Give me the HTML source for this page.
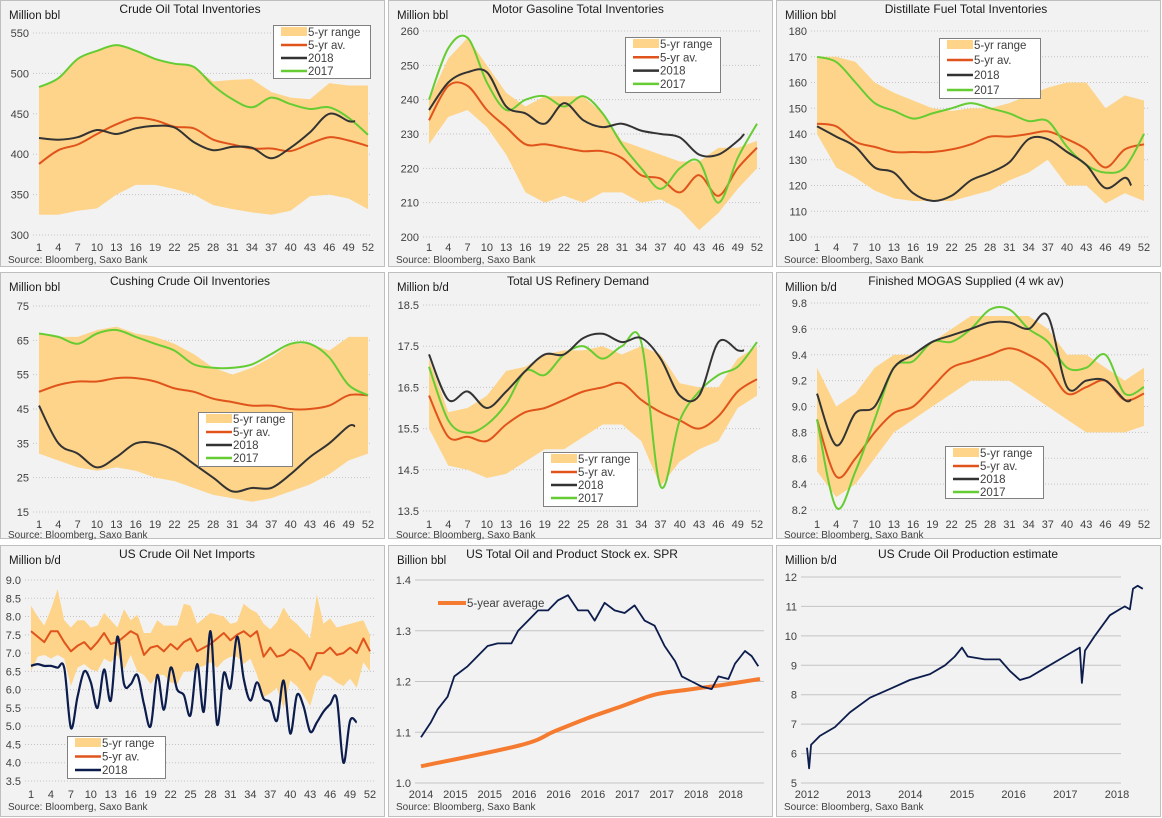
<!DOCTYPE html>
<html><head><meta charset="utf-8"><style>
html,body{margin:0;padding:0;background:#fff;}
svg{display:block;font-family:"Liberation Sans",sans-serif;}
</style></head><body>
<svg id="c" width="1162" height="818" viewBox="0 0 1162 818" xmlns="http://www.w3.org/2000/svg"></svg>
<script>
// ---------- DATA ----------
const weeks18=[1,4,7,10,13,16,19,22,25,28,31,34,37,40,43,46,49,52];
const weeks17=[1,4,7,10,13,16,19,22,25,28,31,34,37,40,43,46,49,50];
const wkLabels=["1","4","7","10","13","16","19","22","25","28","31","34","37","40","43","46","49","52"];

const crudeHi=[483,494,518,528,535,528,518,512,508,490,492,493,477,470,468,488,485,485];
const crudeLo=[325,325,330,333,350,362,362,357,350,337,332,328,325,330,348,350,345,332];
const crudeAvg=[388,405,412,425,437,445,442,434,432,418,412,407,407,404,413,421,417,410];
const crude2018=[420,418,421,430,425,432,435,433,415,405,409,408,395,408,427,450,441,441];
const crude2017=[483,494,518,528,535,528,518,512,508,485,468,458,470,462,456,458,445,424];

const gasHi=[240,252,258,250,242,238,241,241,241,236,228,226,224,222,222,226,226,228];
const gasLo=[227,235,237,232,224,213,210,212,210,213,213,210,211,208,202,207,214,220];
const gasAvg=[234,244,244,237,232,227,227,226,225,225,223,218,217,213,218,212,220,226];
const gas2018=[237,245,248,248,238,236,233,239,234,232,233,231,230,229,224,224,228,230];
const gas2017=[240,255,258,245,237,240,241,238,241,236,227,220,214,220,222,210,223,233];

const distHi=[170,170,168,160,156,153,150,149,150,150,152,155,158,160,160,150,155,153];
const distLo=[140,127,123,118,115,114,114,114,116,118,122,125,130,120,120,113,117,114];
const distAvg=[144,143,137,135,133,133,133,134,136,139,139,140,141,138,134,127,134,136];
const dist2018=[143,139,135,127,125,117,114,116,122,125,129,138,138,133,128,119,123,120];
const dist2017=[170,168,160,152,149,146,148,150,152,150,148,145,145,135,128,125,127,140];

const cushHi=[67,66,66,68,69,67,66,64,61,57,55,57,60,64,64,62,66,66];
const cushLo=[32,30,28,27,28,27,25,24,22,20,19,18,19,21,23,26,30,32];
const cushAvg=[50,52,53,53,54,54,53,51,50,48,47,46,46,45,45,46,49,49];
const cush2018=[46,35,32,28,31,35,35,33,29,25,21,22,22,26,31,35,40,40];
const cush2017=[67,66,64,67,68,66,64,62,58,57,57,58,61,64,64,60,52,49];

const refHi=[17.2,15.9,16.0,16.3,16.9,17.0,17.3,17.4,17.4,17.5,17.3,17.5,17.3,16.6,16.5,16.5,17.2,17.5];
const refLo=[15.5,14.6,14.5,14.3,14.4,14.7,15.0,15.0,15.3,15.6,15.6,15.2,14.1,14.7,15.0,15.2,16.0,16.3];
const refAvg=[16.3,15.3,15.3,15.2,15.6,15.9,16.0,16.2,16.4,16.5,16.6,16.2,15.9,15.7,15.5,15.8,16.4,16.7];
const ref2018=[17.3,16.2,16.4,16.0,16.4,16.9,17.3,17.3,17.7,17.8,17.6,17.7,17.2,16.3,16.3,17.6,17.4,17.4];
const ref2017=[17.0,15.7,15.4,15.6,16.1,16.9,16.8,17.3,17.5,17.2,17.5,17.6,14.1,15.7,16.4,16.8,17.0,17.6];

const mogHi=[9.3,9.0,9.1,9.3,9.4,9.4,9.5,9.6,9.7,9.7,9.7,9.7,9.6,9.4,9.4,9.3,9.2,9.3];
const mogLo=[8.5,8.3,8.4,8.6,8.8,8.9,9.0,9.1,9.2,9.2,9.2,9.1,9.0,8.9,8.8,8.8,8.8,8.85];
const mogAvg=[8.9,8.46,8.6,8.8,8.95,9.0,9.15,9.3,9.35,9.4,9.45,9.4,9.3,9.1,9.15,9.2,9.05,9.1];
const mog2018=[9.1,8.7,8.95,9.0,9.3,9.4,9.5,9.55,9.6,9.65,9.65,9.6,9.7,9.15,9.2,9.2,9.05,9.05];
const mog2017=[8.9,8.22,8.5,8.9,9.3,9.35,9.5,9.5,9.6,9.75,9.75,9.6,9.5,9.3,9.3,9.4,9.1,9.15];

const impWeeks=[1,2,3,4,5,6,7,8,9,10,11,12,13,14,15,16,17,18,19,20,21,22,23,24,25,26,27,28,29,30,31,32,33,34,35,36,37,38,39,40,41,42,43,44,45,46,47,48,49,50,51,52];
const impHi=[8.3,8.0,7.75,8.2,8.75,7.9,7.7,7.9,7.9,7.7,7.75,8.1,7.9,7.7,8.2,7.9,8.05,7.55,7.55,7.9,7.75,7.75,7.75,8.35,8.3,7.8,7.95,8.1,8.05,8.0,7.8,7.85,8.35,8.2,8.1,7.8,7.65,7.85,8.25,7.95,7.8,7.6,7.4,8.6,7.8,7.95,7.7,7.75,7.8,7.85,7.9,7.5];
const impLo=[6.5,6.9,6.95,6.85,6.95,6.85,6.1,6.6,6.7,6.55,6.5,6.85,6.75,6.95,6.55,6.95,6.5,6.4,6.15,6.4,6.4,6.2,6.15,6.5,6.5,6.6,6.65,6.75,6.6,6.8,6.9,6.9,6.7,6.85,6.4,5.8,5.9,6.05,5.5,6.25,6.1,5.85,5.55,6.2,6.4,6.35,6.2,6.1,6.3,6.05,6.75,6.5];
const impAvg=[7.6,7.45,7.3,7.6,7.6,7.3,7.05,7.2,7.3,7.1,7.3,7.55,7.25,7.3,7.45,7.6,7.5,6.95,7.15,7.2,7.05,7.25,7.1,7.3,7.4,7.05,7.15,7.25,7.4,7.55,7.35,7.5,7.6,7.45,7.6,6.9,7.15,6.9,6.95,7.1,7.0,6.85,6.55,7.0,7.0,7.15,6.95,7.0,7.15,7.0,7.4,7.05];
const imp2018Weeks=[1,2,3,4,5,6,7,8,9,10,11,12,13,14,15,16,17,18,19,20,21,22,23,24,25,26,27,28,29,30,31,32,33,34,35,36,37,38,39,40,41,42,43,44,45,46,47,48,49,50];
const imp2018=[6.65,6.7,6.65,6.65,6.6,6.6,4.95,5.8,6.5,6.2,5.5,6.55,5.7,7.45,6.15,6.15,6.4,5.6,5.0,6.4,5.45,6.6,6.0,5.85,5.3,6.7,5.4,7.6,5.05,6.45,6.05,7.45,6.3,5.7,6.2,5.75,5.65,5.15,6.25,4.8,5.85,5.55,4.85,5.1,5.4,5.6,5.75,4.0,5.15,5.1];

const stockTickLabels=["2014","2015","2015","2016","2016","2016","2017","2017","2018","2018"];
const stockMonths=[0,1.8,3.0,4.8,6.0,8.4,10.2,12.0,13.8,16.3,17.5,19.3,21.1,22.9,24.7,26.5,28.3,30.1,31.3,33.1,34.9,36.7,38.5,40.3,42.1,43.9,45.8,47.0,48.8,50.6,52.4,53.6,55.4,56.6,58.4,59.6,60.8];
const stockVals=[1.09,1.12,1.145,1.17,1.21,1.23,1.25,1.27,1.275,1.275,1.30,1.32,1.34,1.34,1.36,1.37,1.34,1.34,1.32,1.355,1.34,1.335,1.35,1.32,1.31,1.27,1.24,1.21,1.20,1.19,1.185,1.21,1.205,1.235,1.26,1.25,1.23];
const avgMonths=[0,18.1,24.1,30.1,36.1,42.1,48.2,54.2,61.1];
const avgVals=[1.033,1.075,1.102,1.128,1.151,1.174,1.184,1.193,1.205];

const prodYears=[2012.0,2012.04,2012.08,2012.25,2012.54,2012.83,2013.22,2013.61,2013.99,2014.38,2014.67,2014.86,2015.0,2015.11,2015.44,2015.73,2015.93,2016.12,2016.31,2016.6,2016.89,2017.18,2017.28,2017.32,2017.38,2017.57,2017.86,2018.05,2018.15,2018.25,2018.31,2018.4,2018.5];
const prodVals=[6.2,5.5,6.3,6.6,6.9,7.4,7.9,8.2,8.5,8.7,9.0,9.3,9.6,9.3,9.2,9.2,8.8,8.5,8.6,8.9,9.2,9.5,9.6,8.4,9.5,10.0,10.7,10.9,11.0,10.9,11.6,11.7,11.6];
const prodTickLabels=["2012","2013","2014","2015","2016","2017","2018"];

// ---------- DRAWING ----------
const svg=document.getElementById('c');
const NS="http://www.w3.org/2000/svg";
function el(tag,attrs,parent){const e=document.createElementNS(NS,tag);for(const k in attrs)e.setAttribute(k,attrs[k]);(parent||svg).appendChild(e);return e;}
function txt(x,y,s,attrs,parent){const t=el('text',Object.assign({x:x,y:y,'font-size':11,fill:'#404040'},attrs||{}),parent);t.textContent=s;return t;}
function smooth(pts){if(pts.length<2)return'';let d='M'+pts[0][0].toFixed(1)+','+pts[0][1].toFixed(1);
 for(let i=0;i<pts.length-1;i++){const p0=pts[i-1]||pts[i],p1=pts[i],p2=pts[i+1],p3=pts[i+2]||p2;
 const c1=[p1[0]+(p2[0]-p0[0])/6,p1[1]+(p2[1]-p0[1])/6],c2=[p2[0]-(p3[0]-p1[0])/6,p2[1]-(p3[1]-p1[1])/6];
 d+='C'+c1[0].toFixed(1)+','+c1[1].toFixed(1)+' '+c2[0].toFixed(1)+','+c2[1].toFixed(1)+' '+p2[0].toFixed(1)+','+p2[1].toFixed(1);}return d;}
function linear(pts){return pts.map((p,i)=>(i?'L':'M')+p[0].toFixed(1)+','+p[1].toFixed(1)).join('');}

const BAND='#fdd48a',AVG='#e0541c',S18='#333333',S17='#66cc33',NAVY='#0c1c4c';

function panel(cfg){
 const g=el('g',{});
 
 
 const bg=el('rect',{x:cfg.px+0.5,y:cfg.py+0.5,width:cfg.pw,height:cfg.ph,fill:'#f2f2f2',stroke:'#bfbfbf'},g);
 
 
 const xs=v=>cfg.xL+(v-cfg.x0)/(cfg.x1-cfg.x0)*(cfg.xR-cfg.xL);
 const ys=v=>cfg.yB+(v-cfg.y0)/(cfg.y1-cfg.y0)*(cfg.yT-cfg.yB);
 // grid + y ticks
 for(const t of cfg.yTicks){const y=ys(t);
  const gl=el('line',{x1:cfg.xL-6,x2:cfg.xR+4,y1:y,y2:y,stroke:'#c4c4c4','stroke-width':1,'stroke-dasharray':cfg.solidGrid?'':'1,2'},g);
  
  
  const tl=txt(cfg.xL-10,y+4,cfg.yFmt(t),{'text-anchor':'end'},g);
  
  }
 cfg.xTicks.forEach((t,i)=>{const tl=txt(xs(t),cfg.xLabY,cfg.xLabels[i],{'text-anchor':'middle'},g);
  
  });
 const tt=txt(cfg.titleX,cfg.py+13,cfg.title,{'text-anchor':'middle','font-size':12,fill:'#1a1a1a'},g);
 
 
 const ut=txt(cfg.px+9,cfg.py+19,cfg.unit,{'font-size':11.5,fill:'#1a1a1a'},g);
 
 
 const sr=txt(cfg.px+8,cfg.srcY,'Source: Bloomberg, Saxo Bank',{'font-size':10,fill:'#404040'},g);
 
 
 // band
 if(cfg.hi){const up=cfg.bx.map((x,i)=>[xs(x),ys(cfg.hi[i])]),dn=cfg.bx.map((x,i)=>[xs(x),ys(cfg.lo[i])]).reverse();
  const b=el('polygon',{points:up.concat(dn).map(p=>p.join(',')).join(' '),fill:BAND},g);
  
  }
 for(const s of cfg.series){const pts=s.x.map((x,i)=>[xs(x),ys(s.v[i])]);
  const p=el('path',{d:s.lin?linear(pts):smooth(pts),fill:'none',stroke:s.c,'stroke-width':s.w||2,'stroke-linejoin':'round'},g);
  
  }
 if(cfg.leg){const L=cfg.leg;
  const lb=el('rect',{x:L.x+0.5,y:L.y+0.5,width:L.w,height:L.h,fill:'#fff',stroke:'#808080'},g);
  
  
  L.items.forEach((it,i)=>{const y=L.y+7+i*L.dy;
   if(it.band){const r=el('rect',{x:L.x+8,y:y-5,width:26,height:9,fill:BAND},g);
    
    }
   else{const l=el('line',{x1:L.x+8,x2:L.x+34,y1:y,y2:y,stroke:it.c,'stroke-width':2.5},g);
    
    }
   const t=txt(L.x+35,y+4,it.t,{'font-size':11.5,fill:'#404040'},g);
   
   });}
 return {g,xs,ys};
}
function wk(name,title,px,py,xL,xR,y0,y1,yT,yB,ticks,fmt,hi,lo,avg,s18,s17,leg,xLabY,srcY){
 const series=[{x:weeks18,v:avg,c:AVG,n:'five-year-average-line'}];
 if(s17)series.push({x:weeks18,v:s17,c:S17,n:'line-2017'});
 series.push({x:weeks17,v:s18,c:S18,n:'line-2018'});
 const items=[{band:1,t:'5-yr range'},{c:AVG,t:'5-yr av.'},{c:S18,t:'2018'},{c:S17,t:'2017'}];
 leg.items=items;
 panel({name,title,px,py,pw:384,ph:266,xL,xR,x0:1,x1:52,y0,y1,yT,yB,yTicks:ticks,yFmt:fmt,xTicks:weeks18,xLabels:wkLabels,
  xLabY,srcY,titleX:px+190,unit:leg.unit,hi,lo,bx:weeks18,series,leg});
}
const f0=v=>String(v),f1=v=>v.toFixed(1);
wk('crude-oil-inventories-chart','Crude Oil Total Inventories',0,0,39,368,300,550,33,235,[300,350,400,450,500,550],f0,crudeHi,crudeLo,crudeAvg,crude2018,crude2017,{x:273,y:25,w:97,h:53,dy:13,unit:'Million bbl'},251,263);
wk('gasoline-inventories-chart','Motor Gasoline Total Inventories',388,0,429,757,200,260,31,237,[200,210,220,230,240,250,260],f0,gasHi,gasLo,gasAvg,gas2018,gas2017,{x:625,y:37,w:95,h:55,dy:13.3,unit:'Million bbl'},251,263);
wk('distillate-inventories-chart','Distillate Fuel Total Inventories',776,0,817,1144,100,180,31,237,[100,110,120,130,140,150,160,170,180],f0,distHi,distLo,distAvg,dist2018,dist2017,{x:939,y:38,w:101,h:60,dy:15,unit:'Million bbl'},251,263);
wk('cushing-inventories-chart','Cushing Crude Oil Inventories',0,272,39,368,15,75,306,512,[15,25,35,45,55,65,75],f0,cushHi,cushLo,cushAvg,cush2018,cush2017,{x:198,y:412,w:94,h:54,dy:13,unit:'Million bbl'},528,538);
wk('refinery-demand-chart','Total US Refinery Demand',388,272,429,757,13.5,18.5,305,511,[13.5,14.5,15.5,16.5,17.5,18.5],f1,refHi,refLo,refAvg,ref2018,ref2017,{x:543,y:452,w:94,h:54,dy:13,unit:'Million b/d'},528,538);
wk('mogas-supplied-chart','Finished MOGAS Supplied (4 wk av)',776,272,817,1144,8.2,9.8,303,510,[8.2,8.4,8.6,8.8,9.0,9.2,9.4,9.6,9.8],f1,mogHi,mogLo,mogAvg,mog2018,mog2017,{x:945,y:446,w:98,h:52,dy:13,unit:'Million b/d'},528,538);

panel({name:'crude-net-imports-chart',title:'US Crude Oil Net Imports',px:0,py:545,pw:384,ph:271,xL:31,xR:370,x0:1,x1:52,y0:3.5,y1:9.0,yT:580,yB:781,
 yTicks:[3.5,4,4.5,5,5.5,6,6.5,7,7.5,8,8.5,9],yFmt:f1,xTicks:weeks18,xLabels:wkLabels,xLabY:798,srcY:810,titleX:187,unit:'Million b/d',
 hi:impHi,lo:impLo,bx:impWeeks,series:[{x:impWeeks,v:impAvg,c:AVG,n:'five-year-average-line',lin:1},{x:imp2018Weeks,v:imp2018,c:NAVY,n:'line-2018',w:2.2}],
 leg:{x:67,y:736,w:98,h:42,dy:13.5,items:[{band:1,t:'5-yr range'},{c:AVG,t:'5-yr av.'},{c:NAVY,t:'2018'}]}});

const p8=panel({name:'total-stock-chart',title:'US Total Oil and Product  Stock ex. SPR',px:388,py:545,pw:384,ph:271,xL:421,xR:760,x0:0,x1:61.1,y0:1.0,y1:1.4,yT:580,yB:783,solidGrid:1,
 yTicks:[1.0,1.1,1.2,1.3,1.4],yFmt:f1,xTicks:stockTickLabels.map((_,i)=>i*6.2),xLabels:stockTickLabels,xLabY:798,srcY:810,titleX:572,unit:'Billion bbl',
 series:[{x:avgMonths,v:avgVals,c:'#f47b30',n:'five-year-average-line',w:4},{x:stockMonths,v:stockVals,c:NAVY,n:'total-stock-line',w:1.8,lin:1}]});
const l8=el('line',{x1:438,x2:466,y1:603,y2:603,stroke:'#f47b30','stroke-width':4});


const t8=txt(467,607,'5-year average',{'font-size':11.5});



panel({name:'crude-production-chart',title:'US Crude Oil Production  estimate',px:776,py:545,pw:384,ph:271,xL:807,xR:1117,x0:2012,x1:2018,y0:5,y1:12,yT:577,yB:783,solidGrid:1,
 yTicks:[5,6,7,8,9,10,11,12],yFmt:f0,xTicks:[2012,2013,2014,2015,2016,2017,2018],xLabels:prodTickLabels,xLabY:798,srcY:810,titleX:968,unit:'Million b/d',
 series:[{x:prodYears,v:prodVals,c:NAVY,n:'production-line',w:1.8,lin:1}]});
</script>
</body></html>
